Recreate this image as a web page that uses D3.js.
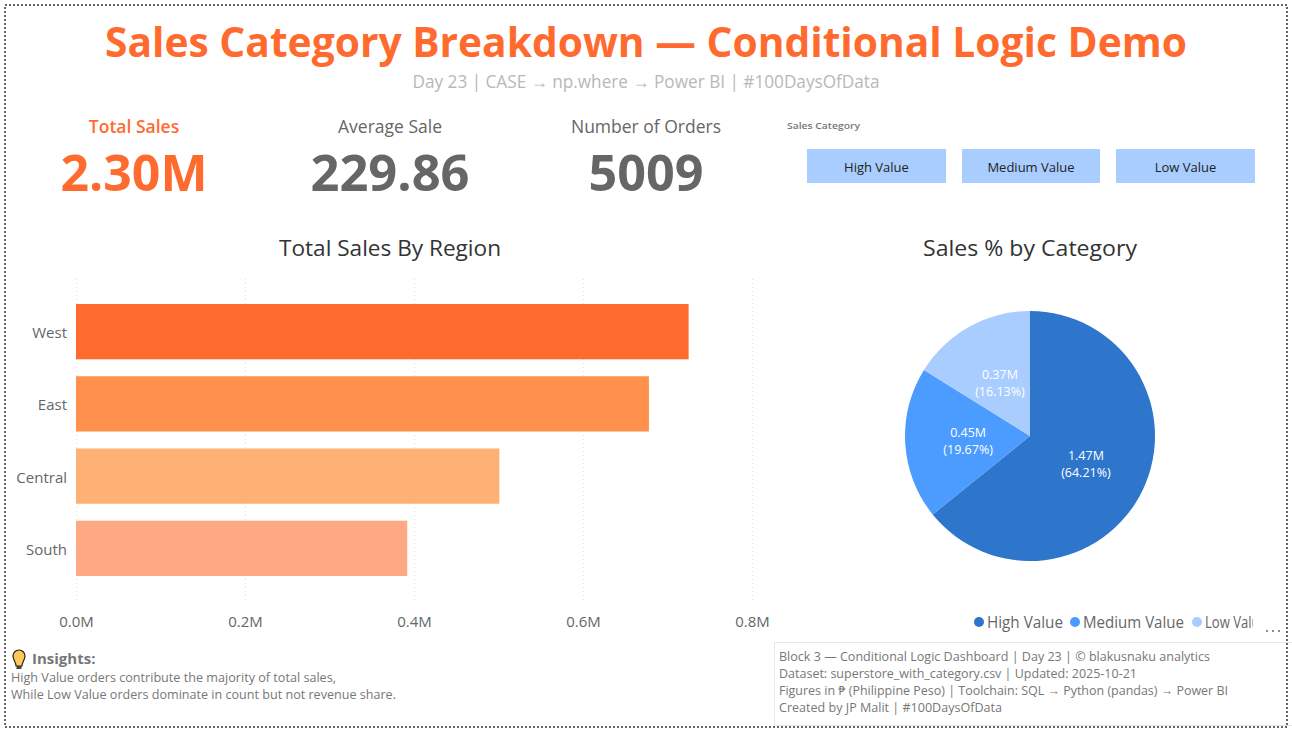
<!DOCTYPE html>
<html><head><meta charset="utf-8">
<script src="https://cdn.jsdelivr.net/npm/d3@7/dist/d3.min.js"></script>
<style>html,body{margin:0;padding:0;background:#fff;overflow:hidden}svg{display:block}text{font-family:"Open Sans","Noto Sans",sans-serif}</style>
</head><body><svg id="c" width="1292" height="735"></svg>
<script>
const titleText="Sales Category Breakdown — Conditional Logic Demo";
const subtitleText="Day 23 | CASE → np.where → Power BI | #100DaysOfData";
const kpiLabels=["Total Sales","Average Sale","Number of Orders"];
const kpiValues=["2.30M","229.86","5009"];
const regions=["West","East","Central","South"];
const regionSales=[0.725,0.678,0.501,0.392];
const regionColors=["#FF6B2F","#FF914D","#FFB073","#FFA884"];
const xTicks=[0,0.2,0.4,0.6,0.8];
const categories=["High Value","Medium Value","Low Value"];
const catSales=[1.47,0.45,0.37];
const catShare=[64.21,19.67,16.13];
const catColors=["#2E75CC","#4C9BFF","#A9CDFF"];
const insights=["High Value orders contribute the majority of total sales,","While Low Value orders dominate in count but not revenue share."];
const footer=["Block 3 — Conditional Logic Dashboard | Day 23 | © blakusnaku analytics","Dataset: superstore_with_category.csv | Updated: 2025-10-21","Figures in ₱ (Philippine Peso) | Toolchain: SQL → Python (pandas) → Power BI","Created by JP Malit | #100DaysOfData"];
const insightWidths=[325,385];
const footerWidths=[431,358,449,223];

const svg=d3.select("#c");
const txt=(x,y,s,size,fill,anchor="middle",weight=400,len=null)=>{
  const t=svg.append("text").attr("x",x).attr("y",y).attr("text-anchor",anchor).attr("font-size",size).attr("fill",fill).attr("font-weight",weight).text(s);
  if(len)t.attr("textLength",len).attr("lengthAdjust","spacingAndGlyphs");
  return t;};
svg.append("rect").attr("x",5).attr("y",5).attr("width",1282).attr("height",722).attr("fill","none").attr("stroke","#666").attr("stroke-width",2).attr("stroke-dasharray","2 2");

txt(646,57,titleText,42,"#FF6B2F","middle",700,1082);
txt(646,88,subtitleText,18,"#B8B8B8","middle",400,467);

const kx=[134,390,646];
const kvW=[147,159,115];
kpiLabels.forEach((l,i)=>txt(kx[i],133,l,17.5,i?"#666":"#FF6B2F","middle",i?400:600));
kpiValues.forEach((v,i)=>txt(kx[i],191,v,50,i?"#666":"#FF6B2F","middle",700,kvW[i]));

txt(787,129,"Sales Category",9.5,"#777","start",600,73);
const slX=d3.scaleOrdinal().domain(categories).range([807,962,1116]);
const slW=d3.scaleOrdinal().domain(categories).range([139,138,139]);
categories.forEach(c=>{
  svg.append("rect").attr("x",slX(c)).attr("y",149).attr("width",slW(c)).attr("height",34).attr("fill","#A9CDFF");
  txt(slX(c)+slW(c)/2,172,c,13,"#222");
});

txt(390,256,"Total Sales By Region",22,"#333","middle",400,222);
txt(1030,256,"Sales % by Category",22,"#333","middle",400,214);

const x=d3.scaleLinear().domain([0,0.8]).range([76,752]);
const y=d3.scaleBand().domain(regions).range([295.5,584.5]).paddingInner(0.235).paddingOuter(0.118);
const gx=svg.append("g").attr("transform","translate(0,600)")
  .call(d3.axisBottom(x).tickValues(xTicks).tickFormat(d=>d.toFixed(1)+"M").tickSize(-323).tickPadding(16));
gx.select(".domain").remove();
gx.selectAll("line").attr("stroke","#E0E0E0").attr("stroke-dasharray","1 3");
gx.selectAll("text").attr("font-size",15).attr("fill","#666");
const gy=svg.append("g").attr("transform","translate(76,1.6)").call(d3.axisLeft(y).tickSize(0).tickPadding(9));
gy.select(".domain").remove();
gy.selectAll("text").attr("font-size",15).attr("fill","#666");
svg.append("g").selectAll("rect").data(regions).join("rect")
  .attr("x",x(0)).attr("y",d=>y(d)).attr("height",y.bandwidth())
  .attr("width",(d,i)=>x(regionSales[i])-x(0)).attr("fill",(d,i)=>regionColors[i]);

const pieData=d3.pie().sort(null)(catShare);
const arc=d3.arc().innerRadius(0).outerRadius(125);
const labelArc=d3.arc().innerRadius(62).outerRadius(62);
const pg=svg.append("g").attr("transform","translate(1030,436)");
pg.selectAll("path").data(pieData).join("path").attr("d",arc).attr("fill",(d,i)=>catColors[i]);
pieData.forEach((d,i)=>{
  const [a,b]=labelArc.centroid(d);
  const t=pg.append("text").attr("text-anchor","middle").attr("font-size",12.5).attr("fill","#fff");
  t.append("tspan").attr("x",a).attr("y",b-3).text(catSales[i].toFixed(2)+"M");
  t.append("tspan").attr("x",a).attr("y",b+14).text("("+catShare[i].toFixed(2)+"%)");
});

svg.append("defs").append("clipPath").attr("id","lg").append("rect").attr("x",960).attr("y",605).attr("width",293).attr("height",35);
const lg=svg.append("g").attr("clip-path","url(#lg)");
const lx=[979,1075,1197];
const lw=[76,101,62];
categories.forEach((c,i)=>{
  lg.append("circle").attr("cx",lx[i]).attr("cy",622).attr("r",5).attr("fill",catColors[i]);
  lg.append("text").attr("x",lx[i]+8).attr("y",628).attr("font-size",15.5).attr("fill","#666")
    .attr("textLength",lw[i]).attr("lengthAdjust","spacingAndGlyphs").text(c);
});
svg.append("g").selectAll("circle").data([0,1,2]).join("circle").attr("cx",d=>1267+d*6).attr("cy",631).attr("r",1).attr("fill","#666");

// insights bulb
const b=svg.append("g").attr("transform","translate(19,658)");
b.append("path").attr("d","M-3,8 C-3,4 -6,2 -6,-2 A6,6 0 1 1 6,-2 C6,2 3,4 3,8 Z").attr("fill","#FFC857").attr("stroke","#222").attr("stroke-width",1.2);
b.append("rect").attr("x",-2.5).attr("y",8).attr("width",5).attr("height",3).attr("fill","#444");
txt(32,664,"Insights:",15,"#777","start",700);
insights.forEach((s,i)=>txt(11,682+i*17,s,12.5,"#777","start",400,insightWidths[i]));

svg.append("rect").attr("x",774.5).attr("y",642.5).attr("width",530).attr("height",83).attr("fill","none").attr("stroke","#E8E8E8");
footer.forEach((s,i)=>txt(779,661+i*17,s,12.5,"#777","start",400,footerWidths[i]));
</script></body></html>
